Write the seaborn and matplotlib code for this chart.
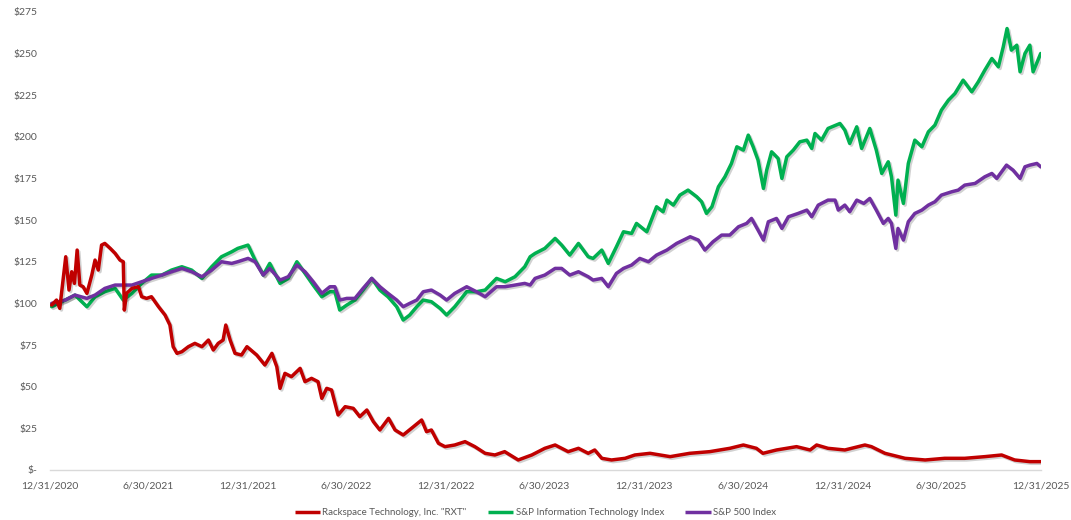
import pandas as pd
import numpy as np
import matplotlib
matplotlib.use('Agg')
import matplotlib.pyplot as plt
import matplotlib.patheffects as pe
from matplotlib.lines import Line2D
import seaborn as sns

# values, $100 invested on 12/31/2020
start = pd.Timestamp('2020-12-31')

rxt_days = [3, 12, 18, 29, 35, 40, 45, 50, 55, 61, 68, 77, 83, 89, 95, 101, 111, 120, 129, 135,
            137, 141, 151, 163, 169, 178, 187, 200, 212, 221, 227, 234, 243, 255, 267, 280, 292, 301,
            310, 319, 324, 332, 341, 353, 363, 381, 396, 409, 418, 424, 433, 445, 461, 470, 482, 494,
            501, 510, 519, 531, 544, 559, 571, 584, 596, 608, 624, 636, 651, 670, 685, 694, 703, 716,
            728, 746, 765, 783, 802, 820, 838, 863, 888, 912, 931, 955, 974, 992, 1004, 1017, 1035,
            1060, 1078, 1106, 1143, 1179, 1216, 1253, 1278, 1302, 1314, 1339, 1376, 1401, 1413, 1434,
            1465, 1502, 1514, 1539, 1576, 1613, 1649, 1686, 1723, 1754, 1778, 1806, 1826]
rxt_values = [99, 102, 97, 128, 108, 119, 112, 132, 111, 110, 106, 117, 126, 120, 135, 136, 133, 130, 126, 125,
              96, 106, 109, 110, 104, 103, 104, 98, 93, 87, 74, 70, 71, 74, 76, 74, 78, 72,
              76, 78, 87, 78, 70, 69, 74, 69, 63, 70, 62, 49, 58, 56, 61, 53, 55, 53,
              43, 49, 48, 33, 38, 37, 32, 36, 29, 24, 31, 24, 21, 26, 30, 23, 24, 16,
              14, 15, 17, 14, 10, 9, 11, 6, 9, 13, 15, 11, 13, 10, 12, 7, 6,
              7, 9, 10, 8, 10, 11, 13, 15, 13, 10, 12, 14, 12, 15, 13,
              12, 15, 14, 10, 7, 6, 7, 7, 8, 9, 6, 5, 5]

tech_days = [3, 28, 46, 68, 83, 101, 120, 135, 151, 169, 187, 206, 224, 243, 261, 280, 298, 316, 335, 346,
             365, 378, 393, 405, 424, 439, 455, 470, 485, 501, 516, 525, 534, 547, 562, 577, 593, 608,
             623, 639, 651, 663, 676, 688, 703, 719, 731, 746, 768, 786, 802, 823, 839, 857, 875, 885,
             894, 912, 931, 943, 958, 974, 992, 1001, 1017, 1029, 1044, 1057, 1072, 1081, 1100, 1118,
             1130, 1137, 1149, 1161, 1176, 1192, 1201, 1210, 1220, 1232, 1244, 1256, 1266, 1278, 1287,
             1296, 1305, 1315, 1321, 1330, 1342, 1349, 1358, 1370, 1382, 1395, 1404, 1410, 1422, 1434,
             1456, 1465, 1474, 1487, 1496, 1511, 1523, 1533, 1545, 1551, 1559, 1563, 1573, 1582, 1594,
             1607, 1619, 1631, 1643, 1656, 1668, 1683, 1699, 1711, 1723, 1736, 1748, 1757, 1764, 1772,
             1782, 1788, 1797, 1806, 1812, 1826]
tech_values = [98, 102, 105, 98, 104, 107, 109, 102, 106, 112, 117, 117, 120, 122, 120, 115, 122, 128, 131, 133,
               135, 126, 117, 124, 112, 115, 125, 118, 111, 104, 107, 107, 96, 99, 102, 108, 115, 108,
               104, 98, 90, 93, 98, 102, 101, 97, 93, 98, 107, 107, 108, 115, 113, 116, 122, 128,
               130, 133, 139, 135, 129, 136, 128, 127, 132, 124, 134, 143, 142, 148, 143, 158,
               155, 162, 159, 165, 168, 164, 161, 154, 158, 170, 176, 184, 194, 192, 201,
               194, 186, 169, 180, 191, 187, 175, 188, 192, 197, 198, 193, 202, 198, 205,
               208, 204, 196, 206, 193, 205, 192, 178, 185, 176, 153, 174, 160, 184, 198,
               194, 203, 207, 216, 222, 226, 234, 227, 233, 240, 247, 242, 254, 265, 252,
               255, 239, 250, 255, 239, 250]

spx_days = [3, 28, 46, 68, 83, 101, 120, 135, 151, 169, 187, 206, 224, 243, 261, 280, 298, 316, 335, 346,
            365, 378, 393, 405, 424, 439, 455, 470, 485, 501, 516, 525, 534, 547, 562, 577, 593, 608,
            623, 639, 651, 663, 676, 688, 703, 719, 731, 746, 768, 786, 802, 823, 839, 857, 875, 885,
            894, 912, 931, 943, 958, 974, 992, 1001, 1017, 1029, 1044, 1057, 1072, 1087, 1103, 1118,
            1137, 1155, 1180, 1195, 1207, 1222, 1238, 1253, 1269, 1284, 1293, 1305, 1315, 1324, 1339,
            1349, 1361, 1379, 1395, 1404, 1416, 1434, 1447, 1453, 1465, 1474, 1487, 1500, 1511, 1523,
            1536, 1545, 1551, 1559, 1563, 1573, 1582, 1594, 1607, 1619, 1631, 1643, 1662, 1674, 1686,
            1705, 1723, 1736, 1745, 1763, 1775, 1788, 1797, 1806, 1819, 1826]
spx_values = [100, 102, 105, 103, 105, 109, 111, 111, 111, 113, 115, 117, 119, 121, 119, 116, 120, 125, 124, 125,
              127, 125, 117, 121, 114, 116, 123, 119, 113, 106, 110, 110, 102, 103, 103, 109, 115, 110,
              106, 102, 98, 100, 102, 107, 108, 105, 102, 106, 110, 107, 104, 110, 110, 111, 112, 111,
              115, 117, 121, 121, 117, 119, 116, 114, 115, 110, 118, 121, 123, 127, 125, 129,
              132, 136, 140, 138, 132, 137, 141, 141, 146, 148, 151, 144, 138, 149, 151,
              145, 152, 154, 156, 152, 159, 162, 162, 156, 159, 155, 162, 160, 163, 156,
              148, 151, 148, 133, 145, 138, 149, 154, 156, 159, 161, 165, 167, 168, 171,
              172, 176, 178, 175, 183, 180, 175, 182, 183, 184, 182]

series_names = ['Rackspace Technology, Inc. "RXT"', 'S&P Information Technology Index', 'S&P 500 Index']
series_colors = ['#C00000', '#00B050', '#7030A0']

tick_dates = ['2020-12-31', '2021-06-30', '2021-12-31', '2022-06-30', '2022-12-31', '2023-06-30',
              '2023-12-31', '2024-06-30', '2024-12-31', '2025-06-30', '2025-12-31']
tick_labels = ['12/31/2020', '6/30/2021', '12/31/2021', '6/30/2022', '12/31/2022', '6/30/2023',
               '12/31/2023', '6/30/2024', '12/31/2024', '6/30/2025', '12/31/2025']
y_ticks = list(range(0, 276, 25))
y_labels = ['$-'] + ['$' + str(v) for v in y_ticks[1:]]

frames = []
for name, days, vals in zip(series_names,
                            [rxt_days, tech_days, spx_days],
                            [rxt_values, tech_values, spx_values]):
    frames.append(pd.DataFrame({'date': start + pd.to_timedelta(days, unit='D'),
                                'value': vals, 'series': name}))
df = pd.concat(frames, ignore_index=True)

sns.set_style('white')
plt.rcParams['font.family'] = ['Lato', 'DejaVu Sans']

fig = plt.figure(figsize=(10.71, 5.2), dpi=100)
ax = fig.add_axes([0.0467, 0.0962, 0.925, 0.881])

palette = dict(zip(series_names, series_colors))
# green first, then purple, red on top
draw_order = [series_names[1], series_names[2], series_names[0]]
sns.lineplot(data=df, x='date', y='value', hue='series', hue_order=draw_order,
             palette=palette, estimator=None, linewidth=2.5, legend=False, ax=ax,
             path_effects=[pe.SimpleLineShadow(offset=(1.2, -1.2), alpha=0.18), pe.Normal()])

ax.set_xlim(start, pd.Timestamp('2025-12-31'))
ax.set_ylim(0, 275)
ax.set_xticks(pd.to_datetime(tick_dates))
ax.set_xticklabels(tick_labels)
ax.set_yticks(y_ticks)
ax.set_yticklabels(y_labels)
ax.set_xlabel('')
ax.set_ylabel('')
ax.tick_params(axis='both', length=0, labelsize=7.5, colors='#595959')
ax.tick_params(axis='x', pad=8)
ax.tick_params(axis='y', pad=9)

for side in ['top', 'right', 'left']:
    ax.spines[side].set_visible(False)
ax.spines['bottom'].set_color('#D9D9D9')
ax.spines['bottom'].set_linewidth(1)

handles = [Line2D([0], [0], color=c, lw=2.5, solid_capstyle='butt') for c in series_colors]
fig.legend(handles, series_names, loc='lower center', bbox_to_anchor=(0.5, -0.012),
           ncol=3, frameon=False, fontsize=7, handlelength=2.6, handletextpad=0.25,
           columnspacing=2.2, labelcolor='#595959')

fig.savefig('out.png', dpi=100)
